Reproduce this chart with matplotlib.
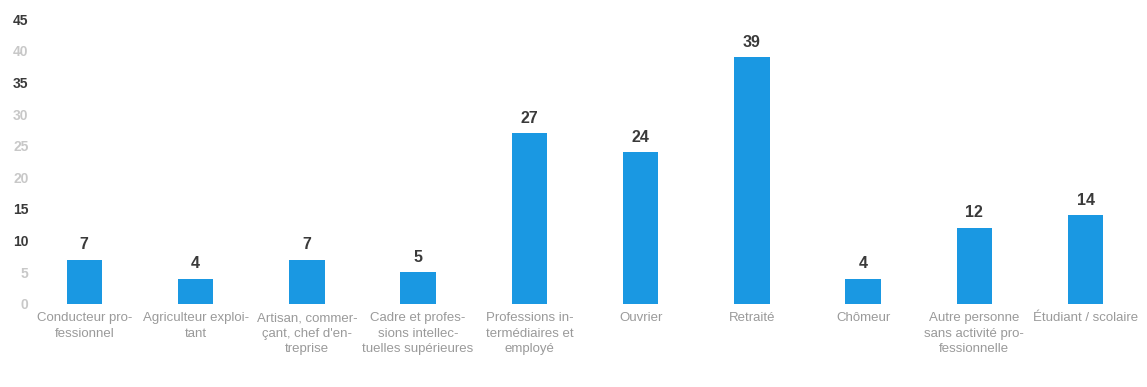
import matplotlib
matplotlib.use("Agg")
import matplotlib.pyplot as plt
import numpy as np

categories = [
    "Conducteur pro-\nfessionnel",
    "Agriculteur exploi-\ntant",
    "Artisan, commer-\nçant, chef d'en-\ntreprise",
    "Cadre et profes-\nsions intellec-\ntuelles supérieures",
    "Professions in-\ntermédiaires et\nemployé",
    "Ouvrier",
    "Retraité",
    "Chômeur",
    "Autre personne\nsans activité pro-\nfessionnelle",
    "Étudiant / scolaire",
]
counts = [7, 4, 7, 5, 27, 24, 39, 4, 12, 14]
yticks = [0, 5, 10, 15, 20, 25, 30, 35, 40, 45]
# some tick labels print dark, the rest pale
dark_ticks = [10, 15, 35, 45]

fontFam = ["Liberation Sans", "DejaVu Sans"]
barColor = "#1a98e2"

fig = plt.figure(figsize=(11.47, 3.87), dpi=100)
ax = fig.add_axes([0.025, 0.215, 0.970, 0.735])

x = np.arange(len(categories))
ax.bar(x, counts, width=0.32, color=barColor)

for xi, v in zip(x, counts):
    ax.text(xi, v + 1.2, str(v), ha="center", va="bottom",
            fontsize=11.5, fontweight="bold", color="#3a3a3a", family=fontFam)

ax.set_xlim(-0.5, len(categories) - 0.5)
ax.set_ylim(0, 45)
ax.set_yticks(yticks)
ax.set_yticklabels([str(t) for t in yticks], family=fontFam, fontsize=10,
                   fontweight="bold")
for lbl, t in zip(ax.get_yticklabels(), yticks):
    lbl.set_color("#3a3a3a" if t in dark_ticks else "#c8c8c8")

ax.set_xticks(x)
ax.set_xticklabels(categories, family=fontFam, fontsize=9.5, color="#9a9a9a",
                   linespacing=1.4)
ax.tick_params(axis="x", length=0, pad=6)
ax.tick_params(axis="y", length=0, pad=0)

for s in ax.spines.values():
    s.set_visible(False)

fig.savefig("out.png", dpi=100, facecolor="white")
